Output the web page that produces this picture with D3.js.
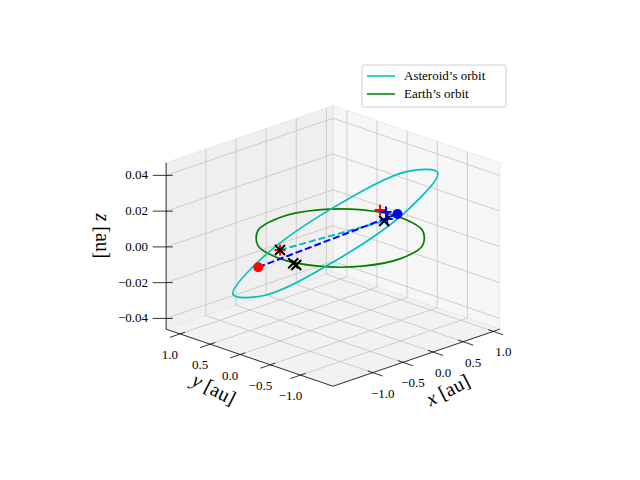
<!DOCTYPE html>
<html>
<head>
<meta charset="utf-8">
<script src="https://cdn.jsdelivr.net/npm/d3@7"></script>
<style>
  body { margin: 0; background: #fff; }
  svg text { font-family: "Liberation Serif", "DejaVu Serif", serif; fill: #000; }
</style>
</head>
<body>
<div id="chart"></div>
<script>
// axis limits and ticks
var xLim = [-1.66, 1.11];
var yLim = [-1.54, 1.23];
var zLim = [-0.046, 0.047];
var xyTicks = [-1.0, -0.5, 0.0, 0.5, 1.0];
var zTicks = [-0.04, -0.02, 0.0, 0.02, 0.04];

// Earth's orbit, sampled points [x, y, z]
var earthOrbit = [
  [1, 0, 0], [0.866, 0.5, 0], [0.5, 0.866, 0], [0, 1, 0],
  [-0.5, 0.866, 0], [-0.866, 0.5, 0], [-1, 0, 0], [-0.866, -0.5, 0],
  [-0.5, -0.866, 0], [0, -1, 0], [0.5, -0.866, 0], [0.866, -0.5, 0]
];

// Asteroid's orbit, sampled points [x, y, z]
var asteroidOrbit = [
  [0.81, -0.81, 0.0365], [1.028, -0.094, 0.0265], [0.62, 0.70, 0.0025],
  [-0.174, 1.108, -0.0215], [-0.89, 0.89, -0.0315], [-1.108, 0.174, -0.0215],
  [-0.70, -0.62, 0.0025], [0.094, -1.028, 0.0265]
];

// dashed connections
var blueDash = [[-0.52, 0.84, -0.02], [1.06, 0.11, 0]];
var cyanDash = [[-0.79, 0.21, 0], [0.78, 0.05, 0]];

// markers
var redDots = [[-0.52, 0.84, -0.02]];
var blueDots = [[1.06, 0.11, 0]];
var redPlus = [[-0.79, 0.21, 0], [1.01, 0.35, 0]];
var bluePlus = [[1.01, 0.25, 0], [0.85, 0.07, 0]];
var blackX = [[-0.79, 0.21, 0], [-1.0, -0.22, 0], [-1.02, -0.29, 0], [0.78, 0.05, 0]];

var legendItems = [
  { label: "Asteroid\u2019s orbit", color: "#00bfbf" },
  { label: "Earth\u2019s orbit", color: "#008000" }
];

var width = 640, height = 480;
var svg = d3.select("#chart").append("svg").attr("width", width).attr("height", height);

// normalized box coordinates
var nx = d3.scaleLinear().domain(xLim).range([-0.5, 0.5]);
var ny = d3.scaleLinear().domain(yLim).range([-0.5, 0.5]);
var nz = d3.scaleLinear().domain(zLim).range([-0.375, 0.375]);

var elev = 20 * Math.PI / 180, azim = -135 * Math.PI / 180;
var scale = 236, cx = 333, cy = 246;
var right = [-Math.sin(azim), Math.cos(azim), 0];
var up = [-Math.sin(elev) * Math.cos(azim), -Math.sin(elev) * Math.sin(azim), Math.cos(elev)];

var projN = function(P) {
  var sx = P[0] * right[0] + P[1] * right[1] + P[2] * right[2];
  var sy = P[0] * up[0] + P[1] * up[1] + P[2] * up[2];
  return [cx + scale * sx, cy - scale * sy];
};
var proj = d => projN([nx(d[0]), ny(d[1]), nz(d[2])]);
var fmtTick = (f, t) => d3.format(f)(t).replace("-", "\u2212");

var line = d3.line();

// panes
var X1 = 0.5, Z0 = -0.375, Z1 = 0.375;
var panes = [
  { pts: [[X1, -0.5, Z0], [X1, 0.5, Z0], [X1, 0.5, Z1], [X1, -0.5, Z1]], fill: "#f6f6f6" },
  { pts: [[-0.5, X1, Z0], [0.5, X1, Z0], [0.5, X1, Z1], [-0.5, X1, Z1]], fill: "#efefef" },
  { pts: [[-0.5, -0.5, Z0], [0.5, -0.5, Z0], [0.5, 0.5, Z0], [-0.5, 0.5, Z0]], fill: "#f2f2f2" }
];
svg.append("g").selectAll("path").data(panes).enter().append("path")
  .attr("d", d => line(d.pts.map(projN)) + "Z")
  .attr("fill", d => d.fill)
  .attr("stroke", "#e6e6e6").attr("stroke-width", 0.8);

// grid lines
var grid = [];
xyTicks.forEach(function(t) {
  var u = nx(t), v = ny(t);
  grid.push([[u, X1, Z0], [u, X1, Z1]]);
  grid.push([[u, -0.5, Z0], [u, 0.5, Z0]]);
  grid.push([[X1, v, Z0], [X1, v, Z1]]);
  grid.push([[-0.5, v, Z0], [0.5, v, Z0]]);
});
zTicks.forEach(function(t) {
  var w = nz(t);
  grid.push([[X1, -0.5, w], [X1, 0.5, w]]);
  grid.push([[-0.5, X1, w], [0.5, X1, w]]);
});
svg.append("g").selectAll("path").data(grid).enter().append("path")
  .attr("d", d => line(d.map(projN)))
  .attr("stroke", "#c4c4c4").attr("stroke-width", 0.8).attr("fill", "none");

// axis lines
var axisG = svg.append("g").attr("stroke", "#000").attr("stroke-width", 0.8);
axisG.append("path").attr("d", line([[-0.5, -0.5, Z0], [0.5, -0.5, Z0]].map(projN)));
axisG.append("path").attr("d", line([[-0.5, -0.5, Z0], [-0.5, 0.5, Z0]].map(projN)));
axisG.append("path").attr("d", line([[-0.5, 0.5, Z0], [-0.5, 0.5, Z1]].map(projN)));

// ticks and labels
xyTicks.forEach(function(t) {
  var p = projN([nx(t), -0.5, Z0]);
  var q = projN([nx(t), -0.56, Z0]);
  var r = projN([nx(t), -0.47, Z0]);
  axisG.append("line").attr("x1", r[0]).attr("y1", r[1]).attr("x2", q[0]).attr("y2", q[1]);
  svg.append("text").attr("x", p[0] + 10).attr("y", p[1] + 25)
    .attr("text-anchor", "middle").attr("font-size", 13).text(fmtTick(".1f", t));

  var p2 = projN([-0.5, ny(t), Z0]);
  var q2 = projN([-0.56, ny(t), Z0]);
  var r2 = projN([-0.47, ny(t), Z0]);
  axisG.append("line").attr("x1", r2[0]).attr("y1", r2[1]).attr("x2", q2[0]).attr("y2", q2[1]);
  svg.append("text").attr("x", p2[0] - 10).attr("y", p2[1] + 25)
    .attr("text-anchor", "middle").attr("font-size", 13).text(fmtTick(".1f", t));
});
zTicks.forEach(function(t) {
  var p = projN([-0.5, 0.5, nz(t)]);
  var q = projN([-0.54, 0.54, nz(t)]);
  var r = projN([-0.48, 0.48, nz(t)]);
  axisG.append("line").attr("x1", r[0]).attr("y1", r[1]).attr("x2", q[0]).attr("y2", q[1]);
  svg.append("text").attr("x", p[0] - 18).attr("y", p[1] + 4)
    .attr("text-anchor", "end").attr("font-size", 13).text(fmtTick(".2f", t));
});

// axis labels
svg.append("text").attr("transform", "translate(451,396) rotate(-27)")
  .attr("text-anchor", "middle").attr("font-size", 20)
  .html('<tspan font-style="italic">x</tspan> [au]');
svg.append("text").attr("transform", "translate(211,395) rotate(27)")
  .attr("text-anchor", "middle").attr("font-size", 20)
  .html('<tspan font-style="italic">y</tspan> [au]');
svg.append("text").attr("transform", "translate(96,236) rotate(90)")
  .attr("text-anchor", "middle").attr("font-size", 20)
  .html('<tspan font-style="italic">z</tspan> [au]');

// orbits
var orbitLine = d3.line().curve(d3.curveCatmullRomClosed);
svg.append("path").attr("d", orbitLine(earthOrbit.map(proj)))
  .attr("fill", "none").attr("stroke", "#008000").attr("stroke-width", 1.7);
svg.append("path").attr("d", orbitLine(asteroidOrbit.map(proj)))
  .attr("fill", "none").attr("stroke", "#00bfbf").attr("stroke-width", 1.7);

// dashed lines
svg.append("path").attr("d", line(cyanDash.map(proj)))
  .attr("fill", "none").attr("stroke", "#00bfbf").attr("stroke-width", 2).attr("stroke-dasharray", "7,3");
svg.append("path").attr("d", line(blueDash.map(proj)))
  .attr("fill", "none").attr("stroke", "#0000ff").attr("stroke-width", 2).attr("stroke-dasharray", "7,3");

// markers
var plus = function(data, color) {
  data.forEach(function(d) {
    var p = proj(d), s = 5.5;
    svg.append("path").attr("d", `M${p[0] - s},${p[1]}H${p[0] + s}M${p[0]},${p[1] - s}V${p[1] + s}`)
      .attr("stroke", color).attr("stroke-width", 2).attr("fill", "none");
  });
};
var cross = function(data, color) {
  data.forEach(function(d) {
    var p = proj(d), s = 5;
    svg.append("path").attr("d", `M${p[0] - s},${p[1] - s}L${p[0] + s},${p[1] + s}M${p[0] - s},${p[1] + s}L${p[0] + s},${p[1] - s}`)
      .attr("stroke", color).attr("stroke-width", 2).attr("fill", "none");
  });
};
plus(redPlus, "#ff0000");
plus(bluePlus, "#0000ff");
cross(blackX, "#000000");
svg.append("g").selectAll("circle").data(redDots).enter().append("circle")
  .attr("cx", d => proj(d)[0]).attr("cy", d => proj(d)[1]).attr("r", 5).attr("fill", "#ff0000");
svg.append("g").selectAll("circle").data(blueDots).enter().append("circle")
  .attr("cx", d => proj(d)[0]).attr("cy", d => proj(d)[1]).attr("r", 5).attr("fill", "#0000ff");

// legend
var legend = svg.append("g").attr("transform", "translate(362,65)");
legend.append("rect").attr("width", 144).attr("height", 42).attr("rx", 2)
  .attr("fill", "#fff").attr("fill-opacity", 0.8).attr("stroke", "#d0d0d0");
legendItems.forEach(function(d, i) {
  legend.append("line").attr("x1", 5).attr("x2", 33).attr("y1", 11 + i * 18).attr("y2", 11 + i * 18)
    .attr("stroke", d.color).attr("stroke-width", 1.5);
  legend.append("text").attr("x", 42).attr("y", 15 + i * 18).attr("font-size", 13).text(d.label);
});
</script>
</body>
</html>
